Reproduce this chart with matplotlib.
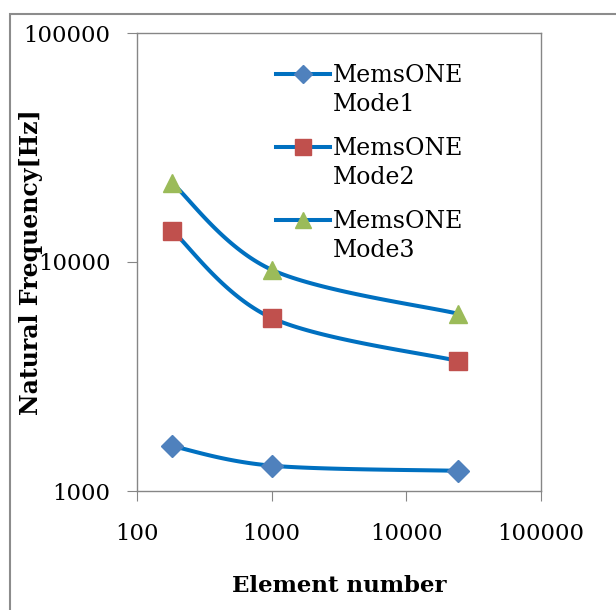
"""
Natural frequency vs element number (MemsONE modes), log-log with smoothed lines.
"""

import numpy as np
import matplotlib
matplotlib.use("Agg")
import matplotlib.pyplot as plt
import matplotlib.patches as mpatches
from matplotlib.legend_handler import HandlerLine2D
from matplotlib.ticker import FixedLocator, FixedFormatter, NullLocator

# -----------------------------------------------------------------------
# Data
# -----------------------------------------------------------------------

element_number = [183, 1000, 24000]
mode1 = [1570, 1290, 1225]
mode2 = [13700, 5700, 3700]
mode3 = [22100, 9250, 5950]

series_labels = ["MemsONE\nMode1", "MemsONE\nMode2", "MemsONE\nMode3"]
x_ticks = [100, 1000, 10000, 100000]
y_ticks = [1000, 10000, 100000]


# -----------------------------------------------------------------------
# Helpers
# -----------------------------------------------------------------------

def smooth_curve(xs, ys, n=40):
    """Excel-style smoothed line: Catmull-Rom Bezier in log-log space."""
    px = np.log10(np.asarray(xs, dtype=float))
    py = np.log10(np.asarray(ys, dtype=float))
    pts = np.column_stack([px, py])
    out = []
    for i in range(len(pts) - 1):
        p0 = pts[max(i - 1, 0)]
        p1 = pts[i]
        p2 = pts[i + 1]
        p3 = pts[min(i + 2, len(pts) - 1)]
        c1 = p1 + (p2 - p0) / 6.0
        c2 = p2 - (p3 - p1) / 6.0
        t = np.linspace(0, 1, n)[:, None]
        seg = ((1 - t) ** 3) * p1 + 3 * ((1 - t) ** 2) * t * c1 \
            + 3 * (1 - t) * t ** 2 * c2 + t ** 3 * p2
        out.append(seg if i == 0 else seg[1:])
    curve = np.vstack(out)
    return 10 ** curve[:, 0], 10 ** curve[:, 1]


class FirstLineHandler(HandlerLine2D):
    """Line handle raised to sit level with the first line of a 2-line label."""

    def __init__(self, shift=0.7, **kw):
        super().__init__(**kw)
        self.shift = shift

    def create_artists(self, legend, orig_handle, xdescent, ydescent,
                       width, height, fontsize, trans):
        artists = super().create_artists(legend, orig_handle, xdescent, ydescent,
                                         width, height, fontsize, trans)
        for a in artists:
            a.set_ydata(np.asarray(a.get_ydata()) + self.shift * fontsize)
        return artists


# -----------------------------------------------------------------------
# Plot
# -----------------------------------------------------------------------

plt.rcParams['font.family'] = ['DejaVu Serif']

fig = plt.figure(figsize=(6.16, 6.10), dpi=100)
ax = fig.add_axes([137 / 616, 1 - 491 / 610, 404 / 616, 458 / 610])

line_color = "#0070C0"
markers = [("D", "#4F81BD", 11), ("s", "#C0504D", 13.2), ("^", "#9BBB59", 13.5)]

proxies = []
for ys, label, (mk, mc, ms) in zip([mode1, mode2, mode3], series_labels, markers):
    sx, sy = smooth_curve(element_number, ys)
    ax.plot(sx, sy, color=line_color, linewidth=2.9, solid_capstyle='round', zorder=2)
    ax.plot(element_number, ys, linestyle='none', marker=mk, markersize=ms,
            markerfacecolor=mc, markeredgecolor=mc, zorder=3)
    # legend proxy
    p, = ax.plot([], [], color=line_color, linewidth=2.9, marker=mk, markersize=ms * 0.85,
                 markerfacecolor=mc, markeredgecolor=mc, label=label)
    proxies.append(p)

ax.set_xscale('log')
ax.set_yscale('log')
ax.set_xlim(100, 100000)
ax.set_ylim(1000, 100000)

ax.xaxis.set_major_locator(FixedLocator(x_ticks))
ax.xaxis.set_major_formatter(FixedFormatter([str(v) for v in x_ticks]))
ax.yaxis.set_major_locator(FixedLocator(y_ticks))
ax.yaxis.set_major_formatter(FixedFormatter([str(v) for v in y_ticks]))
ax.xaxis.set_minor_locator(NullLocator())
ax.yaxis.set_minor_locator(NullLocator())

for sp in ax.spines.values():
    sp.set_color("#868686")
    sp.set_linewidth(1.0)

ax.tick_params(axis='both', which='major', direction='out', length=7,
               color="#868686", labelsize=16.4)
ax.tick_params(axis='y', pad=12)
ax.tick_params(axis='x', pad=16)

ax.set_xlabel("Element number", fontsize=16.5, fontweight='bold', labelpad=22)
ax.set_ylabel("Natural Frequency[Hz]", fontsize=17, fontweight='bold', labelpad=-14)

# legend: handle sits level with the first text line, as in Excel
handler = FirstLineHandler(shift=0.72)
leg = ax.legend(handles=proxies, loc='upper left', bbox_to_anchor=(0.32, 0.953),
                frameon=False, fontsize=17, handlelength=2.3, handletextpad=0.1,
                labelspacing=0.9, borderaxespad=0,
                handler_map={p: handler for p in proxies})
for txt in leg.get_texts():
    txt.set_linespacing(1.33)

# outer chart-area border (right and bottom run past the image)
fig.patches.append(mpatches.Rectangle((10 / 616, -0.1), 1.2, 1 - 14 / 610 + 0.1,
                                      transform=fig.transFigure, fill=False,
                                      edgecolor="#8c8c8c", linewidth=1.5))

fig.savefig("out.png", dpi=100)
